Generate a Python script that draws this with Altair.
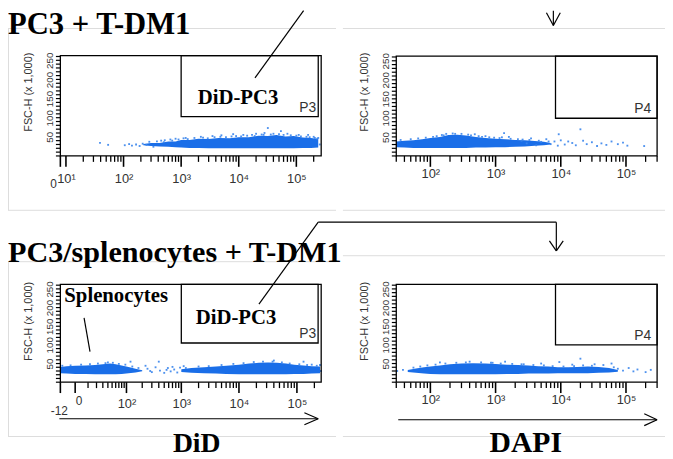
import altair as alt
import pandas as pd

BLUE = "#1a6ee8"
FRINGE = "#3a85ec"
SERIF = "Liberation Serif"
SANS = "Liberation Sans Narrow, Liberation Sans, Arial"
W_ALL, H_ALL = 665, 451
YMAX = 262.144

# ---------------- data ----------------
# Panel 1: PC3 + T-DM1, DiD channel (dense core band + sparse events)
p1_band_x = [220, 300, 420, 600, 800, 1000, 1400, 2000, 3000, 4500, 7000, 10000,
             15000, 22000, 32000, 45000, 65000, 90000, 130000, 180000, 240000]
p1_band_lo = [28, 26, 25, 24, 23, 22, 21, 21, 20, 20, 20, 20, 20, 20, 20, 20, 20, 20, 21, 21, 22]
p1_band_hi = [31, 34, 34, 38, 38, 42, 42, 45, 44, 47, 46, 49, 49, 53, 52, 55, 51, 52, 48, 47, 44]
p1_dot_x = [39, 54, 105, 125, 140, 165, 190, 215, 250, 280, 330, 380, 450, 520, 650, 800,
            1200, 2200, 3500, 5000, 8000, 12000, 20000, 28000, 32000, 54000, 70000, 110000,
            160000, 200000, 240000, 255000,
            500, 700, 900, 1100, 1300, 1700, 2400, 2900, 3800, 4800, 6000, 7500, 9000, 11000,
            14000, 17000, 19000, 25000, 27000, 36000, 40000, 50000, 60000, 80000, 100000,
            120000, 150000, 170000, 210000, 230000]
p1_dot_y = [34, 29, 28, 31, 27, 30, 26, 32, 29, 37, 24, 38, 40, 41, 43, 45,
            47, 50, 52, 54, 57, 55, 58, 60, 73, 65, 58, 55, 55, 50, 47, 30,
            36, 40, 43, 46, 44, 47, 48, 46, 49, 50, 49, 51, 52, 51,
            53, 55, 52, 56, 55, 56, 58, 57, 55, 54, 53,
            51, 50, 49, 47, 45]
p1_gate = dict(gx=[1000], gx2=[240000], gy=[103], gy2=[YMAX], label=["P3"])

# Panel 2: PC3 + T-DM1, DAPI channel
p2_band_x = [30, 40, 55, 75, 100, 140, 190, 260, 350, 500, 700, 1000, 1400, 2000, 2800, 4000, 5500, 7000]
p2_band_lo = [23, 22, 21, 21, 21, 21, 21, 21, 21, 22, 22, 23, 23, 24, 25, 27, 28, 30]
p2_band_hi = [38, 40, 41, 44, 47, 50, 55, 56, 54, 50, 47, 45, 44, 42, 41, 39, 37, 34]
p2_dot_x = [150, 300, 480, 700, 1350, 1600, 2500, 3000, 3500, 4200, 5000, 6000, 7000, 8000,
            9000, 9300, 10000, 11500, 13000, 15000, 17000, 20000, 22000, 25000, 30000, 36000,
            42000, 50000, 60000, 75000, 90000, 105000, 190000,
            35, 50, 65, 85, 110, 125, 160, 175, 220, 240, 380, 420, 550, 620, 800, 950,
            1150, 1250, 1700, 2200, 2600, 3300, 4600, 6500]
p2_dot_y = [55, 58, 57, 52, 60, 50, 40, 33, 46, 28, 37, 44, 31, 38,
            27, 57, 41, 30, 38, 34, 28, 70, 40, 31, 36, 26,
            33, 29, 38, 31, 35, 27, 26,
            42, 44, 46, 48, 50, 52, 54, 58, 59, 58, 56, 54, 52, 50, 49, 48,
            47, 49, 45, 44, 43, 42, 40, 38]
p2_gate = dict(gx=[8300], gx2=[300000], gy=[99], gy2=[YMAX], label=["P4"])

# Panel 3: PC3/splenocytes + T-DM1, DiD channel (two clusters)
p3_band_seg = ["spl"] * 12 + ["pc3"] * 15
p3_band_x = [-12, -6, 0, 8, 18, 30, 45, 60, 80, 110, 150, 200,
             1000, 1500, 2500, 4000, 6000, 10000, 15000, 22000, 32000, 45000, 65000, 90000,
             130000, 180000, 250000]
p3_band_lo = [24, 23, 22, 22, 21, 21, 21, 21, 22, 24, 26, 29,
              27, 25, 24, 23, 22, 21, 21, 21, 21, 21, 21, 22, 22, 23, 24]
p3_band_hi = [41, 43, 44, 45, 46, 48, 50, 48, 45, 41, 36, 32,
              35, 38, 40, 42, 44, 47, 50, 52, 53, 52, 50, 47, 45, 43, 42]
p3_dot_x = [120, 230, 250, 280, 300, 350, 400, 420, 500, 550, 580, 650, 700, 750, 850, 950,
            1100, 40000, 130000, 180000, 250000, 260000,
            -10, -3, 4, 12, 22, 35, 40, 52, 70, 95, 130, 170,
            1200, 2000, 3000, 5000, 8000, 12000, 18000, 26000, 38000, 55000, 75000, 110000,
            150000, 220000]
p3_dot_y = [55, 44, 36, 30, 27, 40, 55, 31, 25, 33, 38, 29, 41, 34, 26, 39,
            43, 58, 55, 47, 46, 30,
            44, 45, 47, 48, 50, 51, 53, 52, 49, 47, 42, 38,
            38, 42, 43, 46, 49, 51, 54, 55, 55, 53, 50, 48,
            46, 44]
p3_gate = dict(gx=[1000], gx2=[232000], gy=[105], gy2=[YMAX], label=["P3"])

# Panel 4: PC3/splenocytes + T-DM1, DAPI channel
p4_band_x = [45, 60, 80, 100, 140, 200, 300, 450, 700, 1000, 1500, 2200, 3200, 4500, 6500,
             9000, 13000, 18000, 26000, 38000, 55000, 75000]
p4_band_lo = [27, 25, 23, 22, 21, 21, 21, 21, 21, 21, 22, 22, 23, 23, 23, 24, 24, 24, 24, 25, 26, 28]
p4_band_hi = [33, 37, 40, 42, 45, 48, 50, 51, 50, 49, 47, 46, 45, 43, 42, 40, 40, 41, 42, 41, 38, 33]
p4_dot_x = [31, 38, 140, 900, 1400, 2500, 5000, 9500, 15000, 20000, 33000, 45000, 60000,
            75000, 90000, 110000, 130000, 150000, 200000, 240000,
            55, 70, 90, 120, 170, 250, 350, 400, 600, 850, 1200, 1800, 2700, 3800, 5500,
            7500, 11000, 16000, 22000, 30000, 65000]
p4_dot_y = [30, 33, 53, 52, 55, 48, 50, 54, 47, 63, 48, 46, 50, 36, 31, 38, 29, 34, 27, 33,
            39, 42, 45, 47, 50, 52, 53, 55, 53, 52, 50, 49, 48, 46, 45,
            43, 42, 43, 45, 44, 40]
p4_gate = dict(gx=[8300], gx2=[300000], gy=[100], gy2=[YMAX], label=["P4"])

# ---------------- helpers ----------------
SUP = {10: "10¹", 100: "10²", 1000: "10³", 10000: "10⁴", 100000: "10⁵"}
ONE = pd.DataFrame({"k": [0]})


def log_ticks(lo, hi):
    vals = []
    for n in range(1, 6):
        for k in range(1, 10):
            v = k * 10 ** n
            if lo <= v <= hi:
                vals.append(v)
    return vals


def seg(x1, y1, x2, y2, color="black", width=1.2):
    return alt.Chart(ONE).mark_rule(color=color, strokeWidth=width).encode(
        x=alt.value(x1), y=alt.value(y1), x2=alt.value(x2), y2=alt.value(y2))


def txt(s, x, y, size, font=SERIF, weight="bold", align="left", color="black"):
    return alt.Chart(ONE).mark_text(text=s, font=font, fontSize=size, fontWeight=weight,
                                    align=align, baseline="alphabetic", color=color).encode(
        x=alt.value(x), y=alt.value(y))


def panel(band, dots, gate, xscale_kw, xr, yr, labelled, major, minor, lab_pad,
          label_dx, title_y):
    x0, x1 = xr
    ybot, ytop = yr
    xscale = alt.Scale(range=[x0, x1], nice=False, **xscale_kw)
    yscale = alt.Scale(domain=[0, YMAX], range=[ybot, ytop], nice=False, zero=False)
    expr = " : ".join(f"datum.value == {v} ? '{SUP[v]}'" for v in labelled) + " : ''"
    xaxis = alt.Axis(orient="bottom", offset=ybot - H_ALL, values=labelled, labelExpr=expr,
                     ticks=False, labelPadding=lab_pad, labelFontSize=13, title=None,
                     labelOverlap=False, labelFlush=False)
    yaxis = alt.Axis(orient="left", offset=-x0, values=[50, 100, 150, 200, 250], ticks=False,
                     labelAngle=270, labelAlign="center", labelBaseline="bottom",
                     labelPadding=6, labelFontSize=10, labelOverlap=False, labelFlush=False,
                     title="FSC-H (x 1,000)", titleX=-29, titleY=title_y, titleAngle=270,
                     titleAlign="center", titleBaseline="alphabetic", titleFontSize=11)
    X = lambda f: alt.X(f, type="quantitative", scale=xscale, axis=xaxis)
    Y = lambda f: alt.Y(f, type="quantitative", scale=yscale, axis=yaxis)

    dom = xscale_kw["domain"]
    frame = alt.Chart(pd.DataFrame({"fx": [dom[0]], "fx2": [dom[1]], "fy": [0], "fy2": [YMAX]})
                      ).mark_rect(fill="white", fillOpacity=0, stroke="black", strokeWidth=1.3
                                  ).encode(x=X("fx"), x2="fx2", y=Y("fy"), y2="fy2")
    band_l = alt.Chart(band).mark_area(color=BLUE, opacity=1, interpolate="linear").encode(
        x=X("x"), y=Y("lo"), y2="hi", detail="seg:N")
    dots_l = alt.Chart(dots).mark_square(size=3.5, color=FRINGE, opacity=0.9).encode(
        x=X("x"), y=Y("y"))
    gdf = pd.DataFrame(gate)
    gate_l = alt.Chart(gdf).mark_rect(fill="white", fillOpacity=0, stroke="black",
                                      strokeWidth=1.3).encode(
        x=X("gx"), x2="gx2", y=Y("gy"), y2="gy2")
    glab = alt.Chart(gdf).mark_text(font=SANS, fontSize=14, align="right", baseline="bottom",
                                    dx=label_dx, dy=-2, color="#333").encode(
        x=X("gx2"), y=Y("gy"), text="label:N")
    xt_major = alt.Chart(pd.DataFrame({"v": major})).mark_rule(color="black", strokeWidth=1.6
                                                               ).encode(
        x=X("v"), y=alt.value(ybot), y2=alt.value(ybot + 11))
    xt_minor = alt.Chart(pd.DataFrame({"v": minor})).mark_rule(color="black", strokeWidth=1.3
                                                               ).encode(
        x=X("v"), y=alt.value(ybot), y2=alt.value(ybot + 6))
    yt = alt.Chart(pd.DataFrame({"v": list(range(0, 261, 10))})).mark_rule(
        color="black", strokeWidth=1.2).encode(y=Y("v"), x=alt.value(x0), x2=alt.value(x0 - 4.5))
    return alt.layer(band_l, dots_l, frame, gate_l, glab, xt_major, xt_minor, yt)


def mk(xs, lo, hi, segs=None):
    return pd.DataFrame({"x": xs, "lo": lo, "hi": hi, "seg": segs or ["a"] * len(xs)})


DEC = [10, 100, 1000, 10000, 100000]

p1 = panel(mk(p1_band_x, p1_band_lo, p1_band_hi),
           pd.DataFrame({"x": p1_dot_x, "y": p1_dot_y}), p1_gate,
           dict(type="log", domain=[8, 270000]), (53, 317), (147, 45.5),
           DEC, [8] + DEC, [v for v in log_ticks(10, 270000) if v not in DEC], 17, -2, 82)

p2 = panel(mk(p2_band_x, p2_band_lo, p2_band_hi),
           pd.DataFrame({"x": p2_dot_x, "y": p2_dot_y}), p2_gate,
           dict(type="log", domain=[30, 300000]), (393, 657), (147, 46),
           DEC[1:], DEC[1:], [v for v in log_ticks(30, 300000) if v not in DEC], 12, -6, 82)

p3 = panel(mk(p3_band_x, p3_band_lo, p3_band_hi, p3_band_seg),
           pd.DataFrame({"x": p3_dot_x, "y": p3_dot_y}), p3_gate,
           dict(type="symlog", constant=15, domain=[-12, 262144]), (53, 317), (376, 277),
           DEC[1:], [-12, 0] + DEC[1:], [v for v in log_ticks(10, 262144) if v not in DEC[1:]],
           16, -2, 314)

p4 = panel(mk(p4_band_x, p4_band_lo, p4_band_hi),
           pd.DataFrame({"x": p4_dot_x, "y": p4_dot_y}), p4_gate,
           dict(type="log", domain=[30, 300000]), (393, 657), (376, 277),
           DEC[1:], DEC[1:], [v for v in log_ticks(30, 300000) if v not in DEC], 12, -6, 314)

GRAY = "#dcdcdc"
back = [
    seg(0, 18, 332, 18, GRAY, 1), seg(339, 18, 665, 18, GRAY, 1),
    seg(0.5, 18, 0.5, 202, GRAY, 1),
    seg(0, 202, 332, 202, GRAY, 1), seg(339, 202, 665, 202, GRAY, 1),
    seg(0, 254, 332, 254, GRAY, 1), seg(339, 248, 665, 248, GRAY, 1),
    seg(0.5, 254, 0.5, 431, GRAY, 1),
    seg(0, 431, 332, 431, GRAY, 1), seg(339, 431, 665, 431, GRAY, 1),
]

front = [
    # titles and labels
    txt("PC3 + T-DM1", 0, 24, 31),
    txt("PC3/splenocytes + T-DM1", 0, 254, 30.5),
    txt("DiD-PC3", 192, 94, 21),
    txt("DiD-PC3", 190, 317, 21),
    txt("Splenocytes", 57, 295, 21),
    txt("DiD", 191, 447, 28, align="center"),
    txt("DAPI", 524, 447, 30, align="center"),
    txt("0", 46, 179, 12, font=SANS, weight="normal", align="center", color="#333"),
    txt("-12", 52, 409, 12, font=SANS, weight="normal", align="center", color="#333"),
    txt("0", 72, 399, 12, font=SANS, weight="normal", align="center", color="#333"),
    # pointer lines and arrows
    seg(250, 68, 299.2, 0),
    seg(552, 0, 552, 15), seg(545, 2, 552, 15), seg(559, 2, 552, 15),
    seg(77, 311, 83, 345),
    seg(254, 297, 314, 214), seg(314, 214, 555, 214), seg(555, 214, 555, 243),
    seg(548, 233, 555, 243), seg(562, 233, 555, 243),
    seg(52, 413, 314, 413), seg(300, 407, 314, 413), seg(300, 419, 314, 413),
    seg(395, 414, 657, 414), seg(644, 408, 657, 414), seg(644, 420, 657, 414),
]

chart = alt.layer(*back, p1, p2, p3, p4, *front).resolve_scale(
    x="independent", y="independent").properties(
    width=W_ALL, height=H_ALL, autosize=alt.AutoSizeParams(type="none"), padding=0,
    background="white").configure_view(strokeOpacity=0).configure_axis(
    domain=False, grid=False, labelColor="#333", labelFont=SANS, titleFont=SANS,
    titleColor="#333", titleFontWeight="normal")

chart.save("out.html", embed_options={"renderer": "svg", "actions": False})
